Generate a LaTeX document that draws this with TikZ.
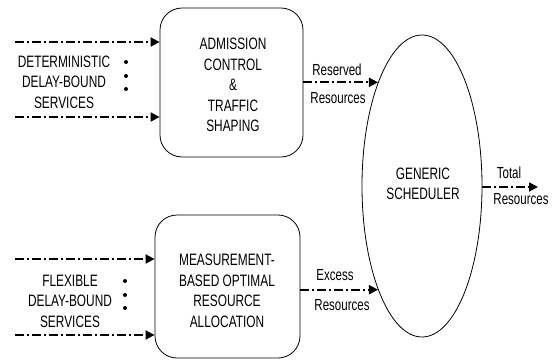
\documentclass[tikz,border=0pt]{standalone}
\usepackage{fontspec}
\setmainfont[FakeStretch=0.72]{Liberation Sans}
\usetikzlibrary{arrows.meta,shapes.geometric}
\begin{document}
\begin{tikzpicture}[x=1pt,y=-1pt,
  flow/.style={line width=1.8pt, dash pattern=on 9pt off 3pt on 2pt off 3pt,
    -{Triangle[length=9pt,width=9pt]}},
  procbox/.style={draw, line width=0.8pt, rounded corners=22pt, inner sep=0pt},
  txt/.style={align=center, font=\fontsize{16.5}{20.5}\selectfont, inner sep=0pt},
  lbl/.style={font=\fontsize{16}{18}\selectfont, inner sep=0pt},
  vdot/.style={circle, fill, inner sep=0pt, minimum size=4pt}]
\useasboundingbox (0,0) rectangle (552,362);
% boxes
\node[procbox, minimum width=143pt, minimum height=149pt] (top) at (231.5,82.5) {};
\node[procbox, minimum width=145pt, minimum height=143pt] (bot) at (227.5,286.5) {};
\node[draw, ellipse, line width=0.8pt, minimum width=120pt, minimum height=302pt, inner sep=0pt] (ell) at (422,186) {};
% box texts
\node[txt] (toptxt) at (233,85) {ADMISSION\\CONTROL\\\&\\TRAFFIC\\SHAPING};
\node[txt] (bottxt) at (227,291) {MEASUREMENT-\\BASED OPTIMAL\\RESOURCE\\ALLOCATION};
\node[txt] (elltxt) at (423,184) {GENERIC\\SCHEDULER};
% left texts
\node[txt] (dettxt) at (64,82) {DETERMINISTIC\\DELAY-BOUND\\SERVICES};
\node[txt] (flxtxt) at (70,301) {FLEXIBLE\\DELAY-BOUND\\SERVICES};
\node[vdot] (d1) at (126,62) {};
\node[vdot] (d2) at (126,76) {};
\node[vdot] (d3) at (126,89) {};
\node[vdot] (e1) at (125,281) {};
\node[vdot] (e2) at (125,295) {};
\node[vdot] (e3) at (125,308) {};
% input arrows
\coordinate (a1) at (15,42);
\coordinate (a2) at (15,117);
\coordinate (b1) at (15,259);
\coordinate (b2) at (15,335);
\draw[flow] (a1) -- (a1 -| top.west);
\draw[flow] (a2) -- (a2 -| top.west);
\draw[flow] (b1) -- (b1 -| bot.west);
\draw[flow] (b2) -- (b2 -| bot.west);
% to scheduler
\draw[flow] (top.east |- ell.113) -- (ell.113);
\draw[flow] (bot.east |- ell.247) -- (ell.247);
\coordinate (out) at (538,187);
\draw[flow] (ell.east |- out) -- (out);
% labels
\node[lbl] (l1) at (337,70) {Reserved};
\node[lbl] (l2) at (338,98) {Resources};
\node[lbl] (l3) at (335,275) {Excess};
\node[lbl] (l4) at (342,305) {Resources};
\node[lbl] (l5) at (509,173) {Total};
\node[lbl] (l6) at (521,199) {Resources};
\end{tikzpicture}
\end{document}
